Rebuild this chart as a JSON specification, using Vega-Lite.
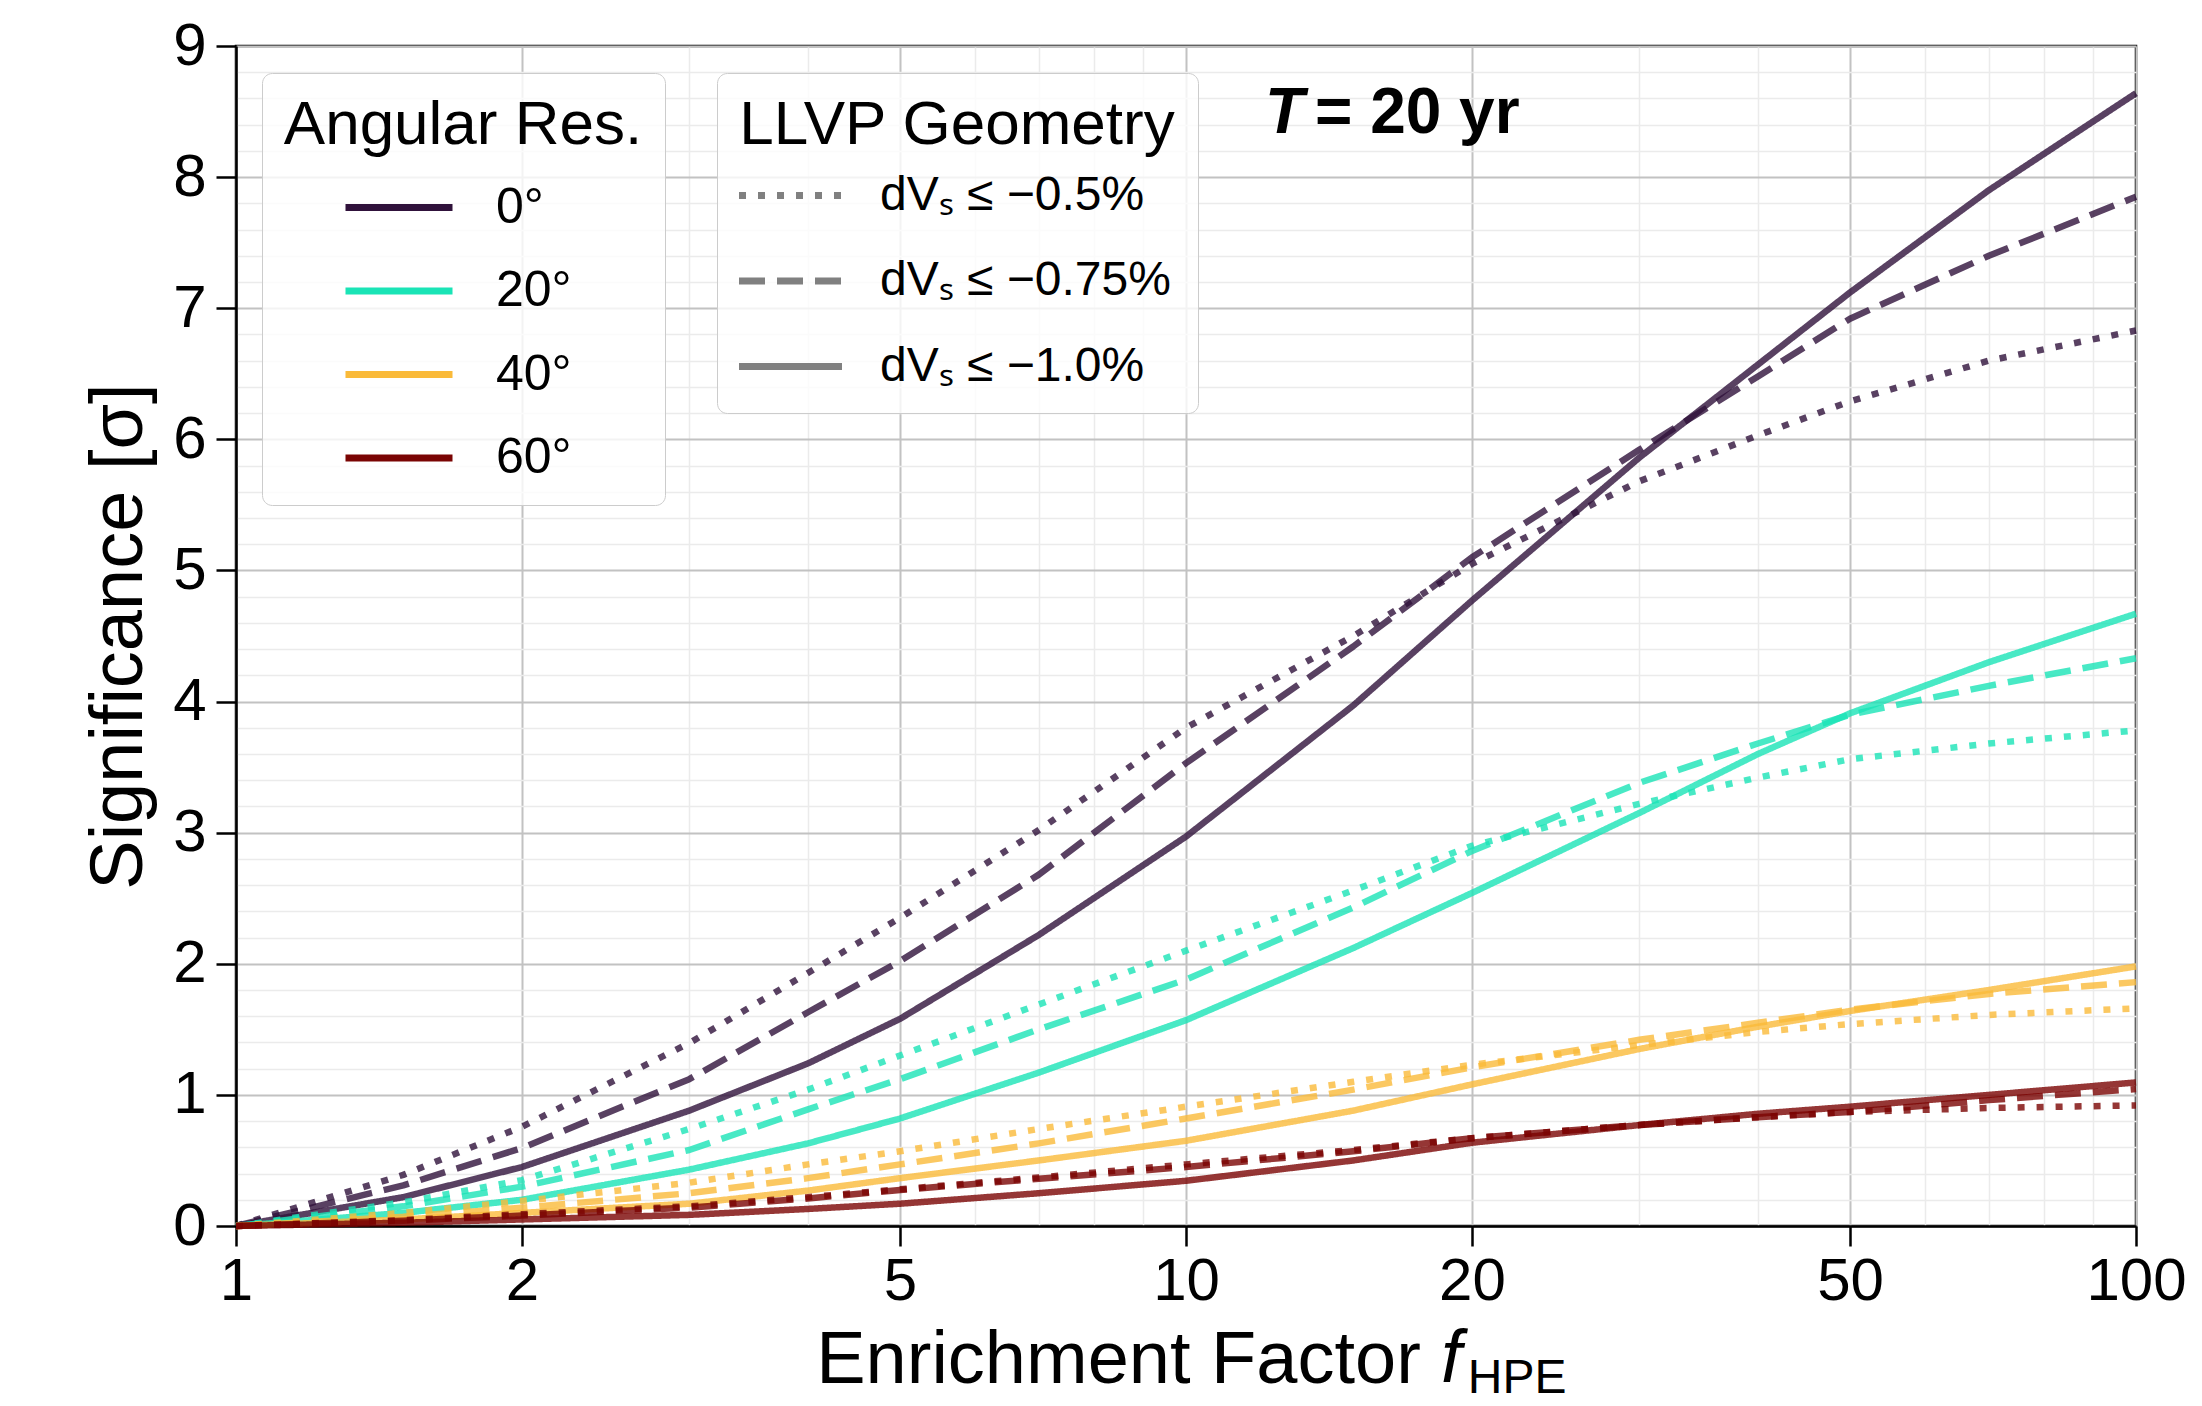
{
  "$schema": "https://vega.github.io/schema/vega-lite/v6.json",
  "width": 1900,
  "height": 1180,
  "autosize": {"type": "none"},
  "padding": {"left": 236, "top": 46, "right": 66, "bottom": 180},
  "background": "white",
  "config": {
    "font": "Liberation Sans",
    "view": {"stroke": "#000000", "strokeWidth": 2.5},
    "axis": {"labelColor": "#000000", "titleColor": "#000000", "titleFontWeight": "normal", "labelFlush": false, "labelOverlap": false}
  },
  "resolve": {"axis": {"x": "independent", "y": "independent"}},
  "layer": [
    {
      "data": {"values": [{"x": 12.11, "y": 8.334, "t": "T"}]},
      "mark": {"type": "text", "fontSize": 64, "fontWeight": "bold", "fontStyle": "italic", "align": "left", "baseline": "alphabetic", "color": "#000000"},
      "encoding": {
        "x": {"field": "x", "type": "quantitative", "scale": {"type": "log", "domain": [1, 100], "nice": false},
          "axis": {"orient": "bottom", "values": [3, 4, 6, 7, 8, 9, 30, 40, 60, 70, 80, 90], "grid": true, "gridColor": "#ebebeb", "gridWidth": 1.5, "labels": false, "ticks": false, "domain": false, "title": null}},
        "y": {"field": "y", "type": "quantitative", "scale": {"domain": [0, 9], "nice": false},
          "axis": {"orient": "left", "values": [0.2, 0.4, 0.6, 0.8, 1.2, 1.4, 1.6, 1.8, 2.2, 2.4, 2.6, 2.8, 3.2, 3.4, 3.6, 3.8, 4.2, 4.4, 4.6, 4.8, 5.2, 5.4, 5.6, 5.8, 6.2, 6.4, 6.6, 6.8, 7.2, 7.4, 7.6, 7.8, 8.2, 8.4, 8.6, 8.8], "grid": true, "gridColor": "#ebebeb", "gridWidth": 1.5, "labels": false, "ticks": false, "domain": false, "title": null}},
        "text": {"field": "t"}
      }
    },
    {
      "data": {"values": [{"x": 13.67, "y": 8.334, "t": "= 20 yr"}]},
      "mark": {"type": "text", "fontSize": 64, "fontWeight": "bold", "align": "left", "baseline": "alphabetic", "color": "#000000"},
      "encoding": {
        "x": {"field": "x", "type": "quantitative", "axis": null},
        "y": {"field": "y", "type": "quantitative", "axis": null},
        "text": {"field": "t"}
      }
    },
    {
      "data": {"values": [{"x": 18.55, "y": -1.19, "t": "f"}]},
      "mark": {"type": "text", "fontSize": 74, "fontStyle": "italic", "align": "left", "baseline": "alphabetic", "color": "#000000"},
      "encoding": {
        "x": {"field": "x", "type": "quantitative", "axis": null},
        "y": {"field": "y", "type": "quantitative", "axis": null},
        "text": {"field": "t"}
      }
    },
    {
      "data": {"values": [{"x": 19.8, "y": -1.27, "t": "HPE"}]},
      "mark": {"type": "text", "fontSize": 48, "align": "left", "baseline": "alphabetic", "color": "#000000"},
      "encoding": {
        "x": {"field": "x", "type": "quantitative", "axis": null},
        "y": {"field": "y", "type": "quantitative", "axis": null},
        "text": {"field": "t"}
      }
    },
    {
      "data": {"values": [
        {"f":1,"s":0,"res":"0°","geom":"1.0"},{"f":1.5,"s":0.22,"res":"0°","geom":"1.0"},{"f":2,"s":0.45,"res":"0°","geom":"1.0"},{"f":3,"s":0.88,"res":"0°","geom":"1.0"},{"f":4,"s":1.24,"res":"0°","geom":"1.0"},{"f":5,"s":1.58,"res":"0°","geom":"1.0"},{"f":7,"s":2.22,"res":"0°","geom":"1.0"},{"f":10,"s":2.97,"res":"0°","geom":"1.0"},{"f":15,"s":3.97,"res":"0°","geom":"1.0"},{"f":20,"s":4.77,"res":"0°","geom":"1.0"},{"f":30,"s":5.86,"res":"0°","geom":"1.0"},{"f":40,"s":6.57,"res":"0°","geom":"1.0"},{"f":50,"s":7.12,"res":"0°","geom":"1.0"},{"f":70,"s":7.9,"res":"0°","geom":"1.0"},{"f":100,"s":8.64,"res":"0°","geom":"1.0"},
        {"f":1,"s":0,"res":"0°","geom":"0.75"},{"f":1.5,"s":0.31,"res":"0°","geom":"0.75"},{"f":2,"s":0.595,"res":"0°","geom":"0.75"},{"f":3,"s":1.12,"res":"0°","geom":"0.75"},{"f":4,"s":1.63,"res":"0°","geom":"0.75"},{"f":5,"s":2.02,"res":"0°","geom":"0.75"},{"f":7,"s":2.68,"res":"0°","geom":"0.75"},{"f":10,"s":3.53,"res":"0°","geom":"0.75"},{"f":15,"s":4.42,"res":"0°","geom":"0.75"},{"f":20,"s":5.1,"res":"0°","geom":"0.75"},{"f":30,"s":5.92,"res":"0°","geom":"0.75"},{"f":40,"s":6.48,"res":"0°","geom":"0.75"},{"f":50,"s":6.92,"res":"0°","geom":"0.75"},{"f":70,"s":7.4,"res":"0°","geom":"0.75"},{"f":100,"s":7.85,"res":"0°","geom":"0.75"},
        {"f":1,"s":0,"res":"0°","geom":"0.5"},{"f":1.5,"s":0.39,"res":"0°","geom":"0.5"},{"f":2,"s":0.757,"res":"0°","geom":"0.5"},{"f":3,"s":1.395,"res":"0°","geom":"0.5"},{"f":4,"s":1.93,"res":"0°","geom":"0.5"},{"f":5,"s":2.35,"res":"0°","geom":"0.5"},{"f":7,"s":3.02,"res":"0°","geom":"0.5"},{"f":10,"s":3.8,"res":"0°","geom":"0.5"},{"f":15,"s":4.5,"res":"0°","geom":"0.5"},{"f":20,"s":5.05,"res":"0°","geom":"0.5"},{"f":30,"s":5.68,"res":"0°","geom":"0.5"},{"f":40,"s":6.03,"res":"0°","geom":"0.5"},{"f":50,"s":6.29,"res":"0°","geom":"0.5"},{"f":70,"s":6.6,"res":"0°","geom":"0.5"},{"f":100,"s":6.83,"res":"0°","geom":"0.5"},
        {"f":1,"s":0,"res":"20°","geom":"1.0"},{"f":1.5,"s":0.1,"res":"20°","geom":"1.0"},{"f":2,"s":0.2,"res":"20°","geom":"1.0"},{"f":3,"s":0.43,"res":"20°","geom":"1.0"},{"f":4,"s":0.63,"res":"20°","geom":"1.0"},{"f":5,"s":0.82,"res":"20°","geom":"1.0"},{"f":7,"s":1.17,"res":"20°","geom":"1.0"},{"f":10,"s":1.57,"res":"20°","geom":"1.0"},{"f":15,"s":2.12,"res":"20°","geom":"1.0"},{"f":20,"s":2.54,"res":"20°","geom":"1.0"},{"f":30,"s":3.15,"res":"20°","geom":"1.0"},{"f":40,"s":3.6,"res":"20°","geom":"1.0"},{"f":50,"s":3.91,"res":"20°","geom":"1.0"},{"f":70,"s":4.3,"res":"20°","geom":"1.0"},{"f":100,"s":4.67,"res":"20°","geom":"1.0"},
        {"f":1,"s":0,"res":"20°","geom":"0.75"},{"f":1.5,"s":0.15,"res":"20°","geom":"0.75"},{"f":2,"s":0.3,"res":"20°","geom":"0.75"},{"f":3,"s":0.58,"res":"20°","geom":"0.75"},{"f":4,"s":0.89,"res":"20°","geom":"0.75"},{"f":5,"s":1.12,"res":"20°","geom":"0.75"},{"f":7,"s":1.5,"res":"20°","geom":"0.75"},{"f":10,"s":1.88,"res":"20°","geom":"0.75"},{"f":15,"s":2.43,"res":"20°","geom":"0.75"},{"f":20,"s":2.86,"res":"20°","geom":"0.75"},{"f":30,"s":3.38,"res":"20°","geom":"0.75"},{"f":40,"s":3.68,"res":"20°","geom":"0.75"},{"f":50,"s":3.9,"res":"20°","geom":"0.75"},{"f":70,"s":4.12,"res":"20°","geom":"0.75"},{"f":100,"s":4.33,"res":"20°","geom":"0.75"},
        {"f":1,"s":0,"res":"20°","geom":"0.5"},{"f":1.5,"s":0.18,"res":"20°","geom":"0.5"},{"f":2,"s":0.35,"res":"20°","geom":"0.5"},{"f":3,"s":0.74,"res":"20°","geom":"0.5"},{"f":4,"s":1.04,"res":"20°","geom":"0.5"},{"f":5,"s":1.3,"res":"20°","geom":"0.5"},{"f":7,"s":1.69,"res":"20°","geom":"0.5"},{"f":10,"s":2.1,"res":"20°","geom":"0.5"},{"f":15,"s":2.56,"res":"20°","geom":"0.5"},{"f":20,"s":2.9,"res":"20°","geom":"0.5"},{"f":30,"s":3.22,"res":"20°","geom":"0.5"},{"f":40,"s":3.42,"res":"20°","geom":"0.5"},{"f":50,"s":3.56,"res":"20°","geom":"0.5"},{"f":70,"s":3.68,"res":"20°","geom":"0.5"},{"f":100,"s":3.78,"res":"20°","geom":"0.5"},
        {"f":1,"s":0,"res":"40°","geom":"1.0"},{"f":1.5,"s":0.05,"res":"40°","geom":"1.0"},{"f":2,"s":0.1,"res":"40°","geom":"1.0"},{"f":3,"s":0.17,"res":"40°","geom":"1.0"},{"f":4,"s":0.27,"res":"40°","geom":"1.0"},{"f":5,"s":0.365,"res":"40°","geom":"1.0"},{"f":7,"s":0.5,"res":"40°","geom":"1.0"},{"f":10,"s":0.65,"res":"40°","geom":"1.0"},{"f":15,"s":0.88,"res":"40°","geom":"1.0"},{"f":20,"s":1.08,"res":"40°","geom":"1.0"},{"f":30,"s":1.35,"res":"40°","geom":"1.0"},{"f":40,"s":1.52,"res":"40°","geom":"1.0"},{"f":50,"s":1.64,"res":"40°","geom":"1.0"},{"f":70,"s":1.8,"res":"40°","geom":"1.0"},{"f":100,"s":1.98,"res":"40°","geom":"1.0"},
        {"f":1,"s":0,"res":"40°","geom":"0.75"},{"f":1.5,"s":0.07,"res":"40°","geom":"0.75"},{"f":2,"s":0.14,"res":"40°","geom":"0.75"},{"f":3,"s":0.25,"res":"40°","geom":"0.75"},{"f":4,"s":0.365,"res":"40°","geom":"0.75"},{"f":5,"s":0.47,"res":"40°","geom":"0.75"},{"f":7,"s":0.63,"res":"40°","geom":"0.75"},{"f":10,"s":0.82,"res":"40°","geom":"0.75"},{"f":15,"s":1.04,"res":"40°","geom":"0.75"},{"f":20,"s":1.21,"res":"40°","geom":"0.75"},{"f":30,"s":1.42,"res":"40°","geom":"0.75"},{"f":40,"s":1.55,"res":"40°","geom":"0.75"},{"f":50,"s":1.65,"res":"40°","geom":"0.75"},{"f":70,"s":1.77,"res":"40°","geom":"0.75"},{"f":100,"s":1.86,"res":"40°","geom":"0.75"},
        {"f":1,"s":0,"res":"40°","geom":"0.5"},{"f":1.5,"s":0.1,"res":"40°","geom":"0.5"},{"f":2,"s":0.19,"res":"40°","geom":"0.5"},{"f":3,"s":0.33,"res":"40°","geom":"0.5"},{"f":4,"s":0.47,"res":"40°","geom":"0.5"},{"f":5,"s":0.57,"res":"40°","geom":"0.5"},{"f":7,"s":0.74,"res":"40°","geom":"0.5"},{"f":10,"s":0.91,"res":"40°","geom":"0.5"},{"f":15,"s":1.1,"res":"40°","geom":"0.5"},{"f":20,"s":1.23,"res":"40°","geom":"0.5"},{"f":30,"s":1.38,"res":"40°","geom":"0.5"},{"f":40,"s":1.48,"res":"40°","geom":"0.5"},{"f":50,"s":1.54,"res":"40°","geom":"0.5"},{"f":70,"s":1.61,"res":"40°","geom":"0.5"},{"f":100,"s":1.66,"res":"40°","geom":"0.5"},
        {"f":1,"s":0,"res":"60°","geom":"1.0"},{"f":1.5,"s":0.025,"res":"60°","geom":"1.0"},{"f":2,"s":0.05,"res":"60°","geom":"1.0"},{"f":3,"s":0.085,"res":"60°","geom":"1.0"},{"f":4,"s":0.13,"res":"60°","geom":"1.0"},{"f":5,"s":0.17,"res":"60°","geom":"1.0"},{"f":7,"s":0.25,"res":"60°","geom":"1.0"},{"f":10,"s":0.345,"res":"60°","geom":"1.0"},{"f":15,"s":0.5,"res":"60°","geom":"1.0"},{"f":20,"s":0.635,"res":"60°","geom":"1.0"},{"f":30,"s":0.77,"res":"60°","geom":"1.0"},{"f":40,"s":0.856,"res":"60°","geom":"1.0"},{"f":50,"s":0.91,"res":"60°","geom":"1.0"},{"f":70,"s":1.0,"res":"60°","geom":"1.0"},{"f":100,"s":1.095,"res":"60°","geom":"1.0"},
        {"f":1,"s":0,"res":"60°","geom":"0.75"},{"f":1.5,"s":0.04,"res":"60°","geom":"0.75"},{"f":2,"s":0.08,"res":"60°","geom":"0.75"},{"f":3,"s":0.14,"res":"60°","geom":"0.75"},{"f":4,"s":0.21,"res":"60°","geom":"0.75"},{"f":5,"s":0.275,"res":"60°","geom":"0.75"},{"f":7,"s":0.36,"res":"60°","geom":"0.75"},{"f":10,"s":0.45,"res":"60°","geom":"0.75"},{"f":15,"s":0.57,"res":"60°","geom":"0.75"},{"f":20,"s":0.67,"res":"60°","geom":"0.75"},{"f":30,"s":0.77,"res":"60°","geom":"0.75"},{"f":40,"s":0.83,"res":"60°","geom":"0.75"},{"f":50,"s":0.87,"res":"60°","geom":"0.75"},{"f":70,"s":0.96,"res":"60°","geom":"0.75"},{"f":100,"s":1.045,"res":"60°","geom":"0.75"},
        {"f":1,"s":0,"res":"60°","geom":"0.5"},{"f":1.5,"s":0.045,"res":"60°","geom":"0.5"},{"f":2,"s":0.09,"res":"60°","geom":"0.5"},{"f":3,"s":0.15,"res":"60°","geom":"0.5"},{"f":4,"s":0.22,"res":"60°","geom":"0.5"},{"f":5,"s":0.28,"res":"60°","geom":"0.5"},{"f":7,"s":0.37,"res":"60°","geom":"0.5"},{"f":10,"s":0.47,"res":"60°","geom":"0.5"},{"f":15,"s":0.58,"res":"60°","geom":"0.5"},{"f":20,"s":0.67,"res":"60°","geom":"0.5"},{"f":30,"s":0.77,"res":"60°","geom":"0.5"},{"f":40,"s":0.83,"res":"60°","geom":"0.5"},{"f":50,"s":0.87,"res":"60°","geom":"0.5"},{"f":70,"s":0.9,"res":"60°","geom":"0.5"},{"f":100,"s":0.92,"res":"60°","geom":"0.5"}
      ]},
      "mark": {"type": "line", "strokeWidth": 6.5, "opacity": 0.8, "strokeCap": "butt", "strokeJoin": "round"},
      "encoding": {
        "x": {"field": "f", "type": "quantitative",
          "axis": {"orient": "bottom", "values": [1, 2, 5, 10, 20, 50, 100], "format": "d", "grid": true, "gridColor": "#c2c2c2", "gridWidth": 2,
            "labelFontSize": 60, "labelPadding": 6, "tickSize": 20, "tickWidth": 2.5, "tickColor": "#000000", "domainColor": "#000000", "domainWidth": 2.5,
            "title": "Enrichment Factor", "titleFontSize": 74, "titleX": 882, "titleY": 98}},
        "y": {"field": "s", "type": "quantitative",
          "axis": {"orient": "left", "values": [0, 1, 2, 3, 4, 5, 6, 7, 8, 9], "grid": true, "gridColor": "#c2c2c2", "gridWidth": 2,
            "labelFontSize": 60, "labelPadding": 10, "tickSize": 20, "tickWidth": 2.5, "tickColor": "#000000", "domainColor": "#000000", "domainWidth": 2.5,
            "title": "Significance [σ]", "titleFontSize": 74, "titlePadding": 15}},
        "color": {"field": "res", "type": "nominal",
          "scale": {"domain": ["0°", "20°", "40°", "60°"], "range": ["#30123b", "#1ae4b6", "#faba39", "#7a0403"]},
          "legend": {"title": "Angular Res.", "orient": "none", "legendX": 26, "legendY": 27,
            "titleFontSize": 62, "titleFontWeight": "normal", "titleAnchor": "middle", "titleAlign": "center", "titlePadding": 22, "titleColor": "#000000", "titleLimit": 2000,
            "labelFontSize": 50, "labelColor": "#000000", "labelLimit": 2000, "padding": 22, "rowPadding": 29.5,
            "symbolType": "M-1.48,0H2.8", "symbolSize": 2500, "symbolStrokeWidth": 7, "symbolOpacity": 1, "labelOffset": 85,
            "fillColor": "rgba(255,255,255,0.8)", "strokeColor": "#cccccc", "cornerRadius": 10}},
        "strokeDash": {"field": "geom", "type": "nominal",
          "scale": {"domain": ["0.5", "0.75", "1.0"], "range": [[7, 12], [26, 12], [1, 0]]},
          "legend": {"title": "LLVP Geometry", "orient": "none", "legendX": 481, "legendY": 27,
            "titleFontSize": 62, "titleFontWeight": "normal", "titleAnchor": "middle", "titleAlign": "center", "titlePadding": 10, "titleColor": "#000000", "titleLimit": 2000,
            "labelFontSize": 48, "labelColor": "#000000", "labelLimit": 2000, "padding": 22, "rowPadding": 32.5,
            "labelExpr": "'dVₛ ≤ −' + datum.label + '%'",
            "symbolType": "M-1.3,0H2.82", "symbolSize": 2500, "symbolStrokeWidth": 7, "symbolStrokeColor": "#808080", "symbolOpacity": 1, "labelOffset": 80,
            "fillColor": "rgba(255,255,255,0.8)", "strokeColor": "#cccccc", "cornerRadius": 10}}
      }
    }
  ]
}
